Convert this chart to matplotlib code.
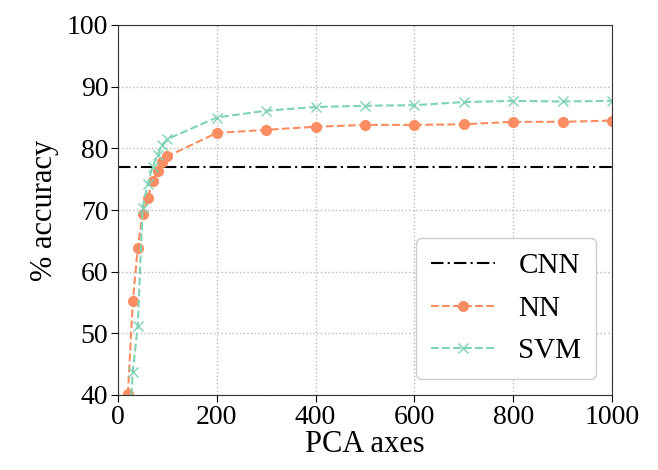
import matplotlib
matplotlib.use("Agg")
import matplotlib.pyplot as plt

plt.rcParams['font.family'] = ['Liberation Serif', 'DejaVu Serif']
plt.rcParams['mathtext.fontset'] = 'stix'

cnn_acc = 77.0
nn_x = [20, 30, 40, 50, 60, 70, 80, 90, 100, 200, 300, 400, 500, 600, 700, 800, 900, 1000]
nn_y = [40.1, 55.2, 63.9, 69.4, 71.9, 74.7, 76.3, 77.8, 78.7, 82.5, 83.0, 83.5, 83.8, 83.8, 83.9, 84.3, 84.3, 84.5]
svm_x = [20, 30, 40, 50, 60, 70, 80, 90, 100, 200, 300, 400, 500, 600, 700, 800, 900, 1000]
svm_y = [31.0, 43.8, 51.2, 70.4, 74.2, 77.0, 78.9, 80.6, 81.5, 85.0, 86.1, 86.7, 86.9, 87.0, 87.5, 87.7, 87.6, 87.7]
xticks = [0, 200, 400, 600, 800, 1000]
yticks = [40, 50, 60, 70, 80, 90, 100]

fig = plt.figure(figsize=(6.58, 4.70), dpi=100)
ax = fig.add_axes([118/658, 1-395/470, (612-118)/658, (395-25)/470])

ax.axhline(cnn_acc, color='black', linestyle='-.', linewidth=1.5, label='CNN', dashes=(6, 2, 1, 2))
ax.plot(nn_x, nn_y, color='#fc8d62', linestyle='--', linewidth=1.5, marker='o', markersize=7, label='NN')
ax.plot(svm_x, svm_y, color='#7fd3b4', linestyle='--', linewidth=1.5, marker='x', markersize=7, label='SVM')

ax.set_xlim(0, 1000)
ax.set_ylim(40, 100)
ax.set_xticks(xticks)
ax.set_yticks(yticks)
ax.grid(True, linestyle=':', color='#bbbbbb', linewidth=1)
ax.tick_params(labelsize=20, direction='out', length=5, pad=2)
ax.set_xlabel('PCA axes', fontsize=22, labelpad=0)
ax.set_ylabel('% accuracy', fontsize=22, labelpad=6)
for s in ax.spines.values():
    s.set_color('#333333')

leg = ax.legend(loc='lower right', fontsize=21, handlelength=2.2, handletextpad=0.8,
                borderpad=0.5, labelspacing=0.55, framealpha=1, edgecolor='#cccccc',
                borderaxespad=0.55)
fig.savefig('out.png', dpi=100)
